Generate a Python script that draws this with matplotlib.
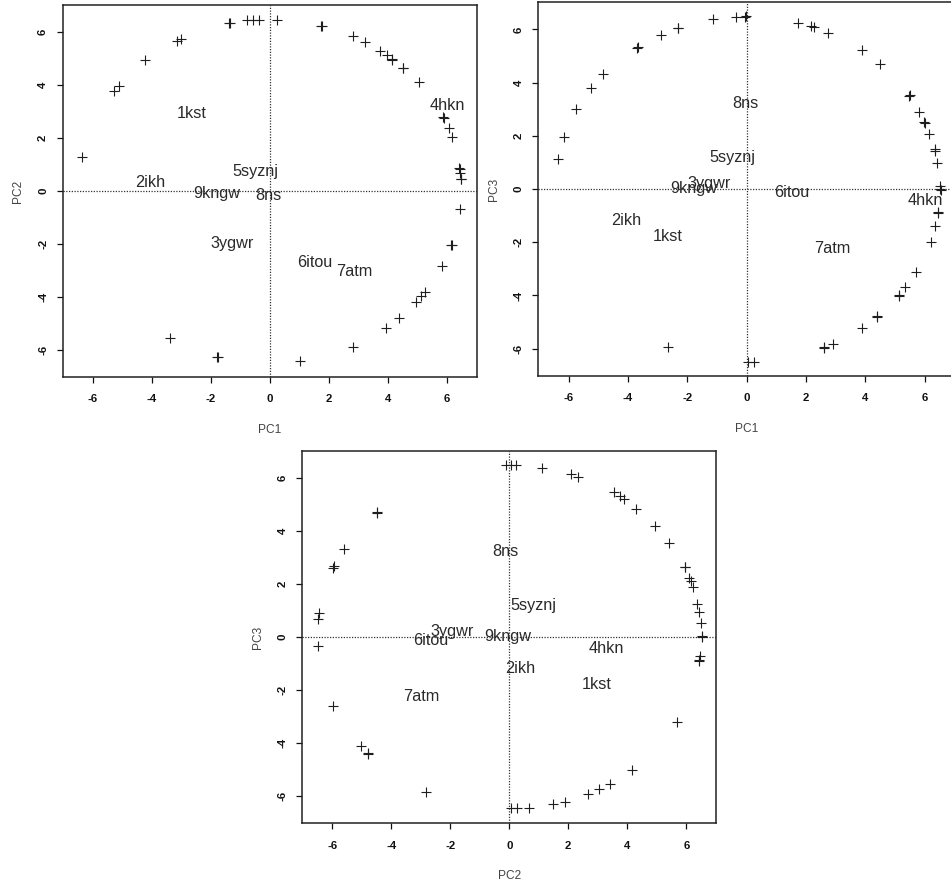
import matplotlib
matplotlib.use("Agg")
import matplotlib.pyplot as plt
import matplotlib.transforms as mtransforms

plt.rcParams['font.family'] = ['Liberation Sans', 'DejaVu Sans']

# ---------------- data ----------------
label_names = ["1kst", "2ikh", "3ygwr", "4hkn", "5syznj", "6itou", "7atm", "8ns", "9kngw"]
label_pc1 = [-2.66, -4.05, -1.27, 6.01, -0.49, 1.52, 2.88, -0.04, -1.79]
label_pc2 = [2.97, 0.37, -1.93, 3.28, 0.80, -2.66, -2.99, -0.12, -0.04]
label_pc3 = [-1.74, -1.12, 0.25, -0.37, 1.22, -0.07, -2.20, 3.28, 0.06]

# panel 1: PC1 vs PC2
p1_x = [-6.37, -5.28, -5.12, -4.23, -3.13, -3.02, -1.38, -1.36, -0.78, -0.57, -0.35, 0.26,
        1.75, 1.76, 2.84, 3.22, 3.75, 3.97, 4.14, 4.16, 4.51, 4.52, 5.05, 5.87, 5.90, 6.07,
        6.18, 6.43, 6.45, 6.46, 6.48, 6.49, 6.45, 6.16, 6.18, 5.85, 5.28, 5.14, 4.95, 4.38,
        3.93, 2.81, 1.04, -1.78, -1.76, -3.37]
p1_y = [1.27, 3.77, 3.97, 4.93, 5.68, 5.72, 6.33, 6.35, 6.44, 6.44, 6.44, 6.45,
        6.24, 6.22, 5.84, 5.61, 5.30, 5.12, 4.98, 4.96, 4.65, 4.63, 4.10, 2.80, 2.74, 2.37,
        2.05, 0.87, 0.82, 0.67, 0.45, 0.47, -0.69, -2.02, -2.04, -2.83, -3.80, -3.97, -4.20, -4.80,
        -5.17, -5.87, -6.43, -6.26, -6.27, -5.56]

# panel 2: PC1 vs PC3
p2_x = [-6.37, -6.17, -5.75, -5.26, -4.83, -3.69, -3.68, -2.89, -2.33, -2.32, -1.12, -0.37,
        -0.05, -0.02, 1.72, 2.16, 2.28, 2.73, 3.88, 4.49, 5.48, 5.49, 5.81, 5.98, 6.00, 6.16,
        6.34, 6.36, 6.43, 6.52, 6.53, 6.54, 6.44, 6.45, 6.36, 6.21, 5.71, 5.35, 5.12, 5.14,
        4.38, 4.40, 3.88, 2.90, 2.62, 2.61, -2.64, 0.03, 0.26]
p2_y = [1.13, 1.97, 3.01, 3.79, 4.31, 5.31, 5.35, 5.79, 6.04, 6.07, 6.38, 6.48,
        6.48, 6.49, 6.26, 6.13, 6.08, 5.88, 5.21, 4.70, 3.50, 3.52, 2.91, 2.51, 2.48, 2.07,
        1.49, 1.42, 0.99, 0.11, -0.01, -0.03, -0.87, -0.91, -1.40, -1.98, -3.13, -3.70, -4.01, -3.99,
        -4.81, -4.78, -5.22, -5.83, -5.96, -5.94, -5.93, -6.50, -6.50]

# panel 3: PC2 vs PC3
p3_x = [-6.46, -6.47, -6.50, -5.97, -5.93, -5.59, -4.50, -4.49, -5.99, -5.04, -4.79, -4.78,
        -2.82, -0.10, 0.07, 0.22, 1.12, 2.08, 2.32, 3.55, 3.76, 3.90, 4.28, 4.94, 5.43, 5.94,
        5.95, 6.10, 6.15, 6.22, 6.37, 6.42, 6.49, 6.53, 6.54, 6.48, 6.44, 6.44, 5.70, 4.17,
        3.40, 3.04, 2.68, 1.89, 1.49, 0.67, 0.27, 0.06]
p3_y = [0.92, 0.68, -0.34, 2.62, 2.69, 3.32, 4.69, 4.71, -2.60, -4.12, -4.40, -4.38,
        -5.85, 6.48, 6.48, 6.48, 6.38, 6.13, 6.05, 5.45, 5.31, 5.20, 4.83, 4.19, 3.55, 2.65,
        2.63, 2.24, 2.12, 1.90, 1.23, 0.96, 0.52, 0.03, 0.01, -0.71, -0.87, -0.92, -3.19, -5.01,
        -5.54, -5.73, -5.93, -6.21, -6.31, -6.46, -6.46, -6.46]

tick_vals = [-6, -4, -2, 0, 2, 4, 6]
tick_labels = ["-6", "-4", "-2", "0", "2", "4", "6"]

# ---------------- figure ----------------
W, H = 951, 883
fig = plt.figure(figsize=(W / 100, H / 100), dpi=100)
fig.patch.set_facecolor("white")

LIM = 7.02


def make_ax(left_px, top_px, w_px, h_px):
    return fig.add_axes([left_px / W, 1 - (top_px + h_px) / H, w_px / W, h_px / H])


panels = [
    (make_ax(62.6, 5.0, 414.2, 372.0), p1_x, p1_y, label_pc1, label_pc2, "PC1", "PC2"),
    (make_ax(538.4, 2.3, 416.6, 373.5), p2_x, p2_y, label_pc1, label_pc3, "PC1", "PC3"),
    (make_ax(302.2, 450.8, 414.2, 372.5), p3_x, p3_y, label_pc2, label_pc3, "PC2", "PC3"),
]

for ax, px, py, lx, ly, xl, yl in panels:
    ax.set_xlim(-LIM, LIM)
    ax.set_ylim(-LIM, LIM)
    ax.axhline(0, color="#333333", linestyle=(0, (1, 1.2)), linewidth=0.9, zorder=1)
    ax.axvline(0, color="#333333", linestyle=(0, (1, 1.2)), linewidth=0.9, zorder=1)
    ax.plot(px, py, linestyle="none", marker="+", markersize=6.5, markeredgewidth=0.8,
            color="#1e1e1e", zorder=3)
    off = mtransforms.offset_copy(ax.transData, fig=fig, x=0, y=-5.8, units="dots")
    for name, x, y in zip(label_names, lx, ly):
        ax.text(x, y, name, transform=off, ha="center", va="baseline",
                fontsize=11.7, color="#2a2a2a", zorder=4)
    ax.set_xticks(tick_vals)
    ax.set_xticklabels(tick_labels, fontweight="bold")
    ax.set_yticks(tick_vals)
    ax.set_yticklabels(tick_labels, rotation=90, va="center", fontweight="bold")
    ax.tick_params(axis="both", direction="out", length=4.5, width=0.9,
                   labelsize=8.2, colors="#111111")
    ax.tick_params(axis="x", pad=8)
    ax.tick_params(axis="y", pad=6)
    for sp in ax.spines.values():
        sp.set_linewidth(1.1)
        sp.set_color("#222222")
    ax.set_xlabel(xl, fontsize=8.6, color="#444444", labelpad=14)
    ax.set_ylabel(yl, fontsize=8.6, color="#444444", labelpad=10)

fig.savefig("out.png", dpi=100, facecolor="white")
